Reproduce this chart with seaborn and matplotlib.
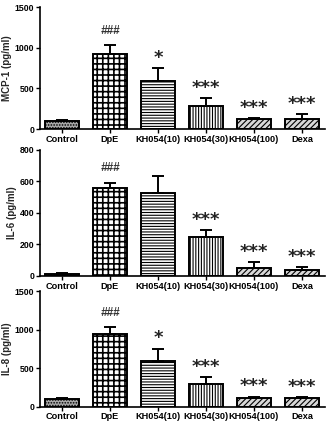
import matplotlib
matplotlib.use("Agg")
import matplotlib.pyplot as plt
import seaborn as sns
import numpy as np
import pandas as pd

groups = ["Control", "DpE", "KH054(10)", "KH054(30)", "KH054(100)", "Dexa"]

mcp1_mean = [100, 930, 590, 280, 120, 130]
mcp1_err = [15, 100, 165, 100, 15, 50]
mcp1_sig = ["", "###", "*", "***", "***", "***"]

il6_mean = [15, 560, 525, 245, 50, 38]
il6_err = [3, 30, 110, 45, 38, 20]
il6_sig = ["", "###", "", "***", "***", "***"]

il8_mean = [95, 940, 590, 290, 120, 115]
il8_err = [15, 90, 165, 95, 12, 15]
il8_sig = ["", "###", "*", "***", "***", "***"]

panels = [
    ("MCP-1 (pg/ml)", mcp1_mean, mcp1_err, mcp1_sig, [0, 500, 1000, 1500], 1500),
    ("IL-6 (pg/ml)", il6_mean, il6_err, il6_sig, [0, 200, 400, 600, 800], 800),
    ("IL-8 (pg/ml)", il8_mean, il8_err, il8_sig, [0, 500, 1000, 1500], 1500),
]

sns.set_style("white")
plt.rcParams["font.family"] = ["Liberation Sans", "DejaVu Sans"]
plt.rcParams["hatch.linewidth"] = 0.8

faces = ["#a8a8a8", "white", "white", "white", "#d8d8d8", "#d8d8d8"]
hatches = ["......", "+++", "------", "||||||", "//////", "//////"]

fig = plt.figure(figsize=(3.32, 4.22), dpi=100)
rects = [
    [0.120, 0.694, 0.859, 0.289],
    [0.120, 0.346, 0.859, 0.299],
    [0.120, 0.036, 0.859, 0.274],
]

for rect, (ylabel, mean, err, sig, yticks, ymax) in zip(rects, panels):
    ax = fig.add_axes(rect)
    df = pd.DataFrame({"group": groups, "value": mean})
    sns.barplot(data=df, x="group", y="value", ax=ax, color="white",
                width=0.7, edgecolor="black", linewidth=1.4, errorbar=None)
    for i, (p, fc, h) in enumerate(zip(ax.patches, faces, hatches)):
        p.set_facecolor(fc)
        p.set_hatch(h)
        if i == 1:
            try:
                p.set_hatch_linewidth(1.2)
            except AttributeError:
                pass
    xs = np.arange(len(groups))
    ax.errorbar(xs, mean, yerr=[np.zeros(len(mean)), err], fmt="none",
                ecolor="black", elinewidth=1.4, capsize=4, capthick=1.4, zorder=1)
    for x, m, e, s in zip(xs, mean, err, sig):
        if not s:
            continue
        top = m + e
        if s.startswith("#"):
            ax.text(x, top + ymax * 0.07, s, ha="center", va="bottom",
                    fontsize=8.5, fontweight="bold", fontstyle="italic",
                    color="#333333")
        else:
            ax.text(x, top + ymax * 0.01, s, ha="center", va="bottom",
                    fontsize=13, fontweight="bold", color="#222222",
                    family=["DejaVu Sans"])
    ax.set_xlim(-0.46, 5.48)
    ax.set_ylim(0, ymax)
    ax.set_yticks(yticks)
    ax.set_xlabel("")
    ax.set_ylabel(ylabel, fontsize=7, fontweight="bold", labelpad=2)
    for sp in ["top", "right"]:
        ax.spines[sp].set_visible(False)
    for sp in ["left", "bottom"]:
        ax.spines[sp].set_linewidth(1.2)
        ax.spines[sp].set_color("black")
    ax.tick_params(axis="both", direction="out", length=3, width=1, pad=1,
                   colors="black", bottom=True, left=True)
    ax.tick_params(axis="x", labelsize=6.6)
    ax.tick_params(axis="y", labelsize=6.3)
    for lbl in ax.get_xticklabels() + ax.get_yticklabels():
        lbl.set_fontweight("bold")

fig.savefig("out.png", dpi=100)
